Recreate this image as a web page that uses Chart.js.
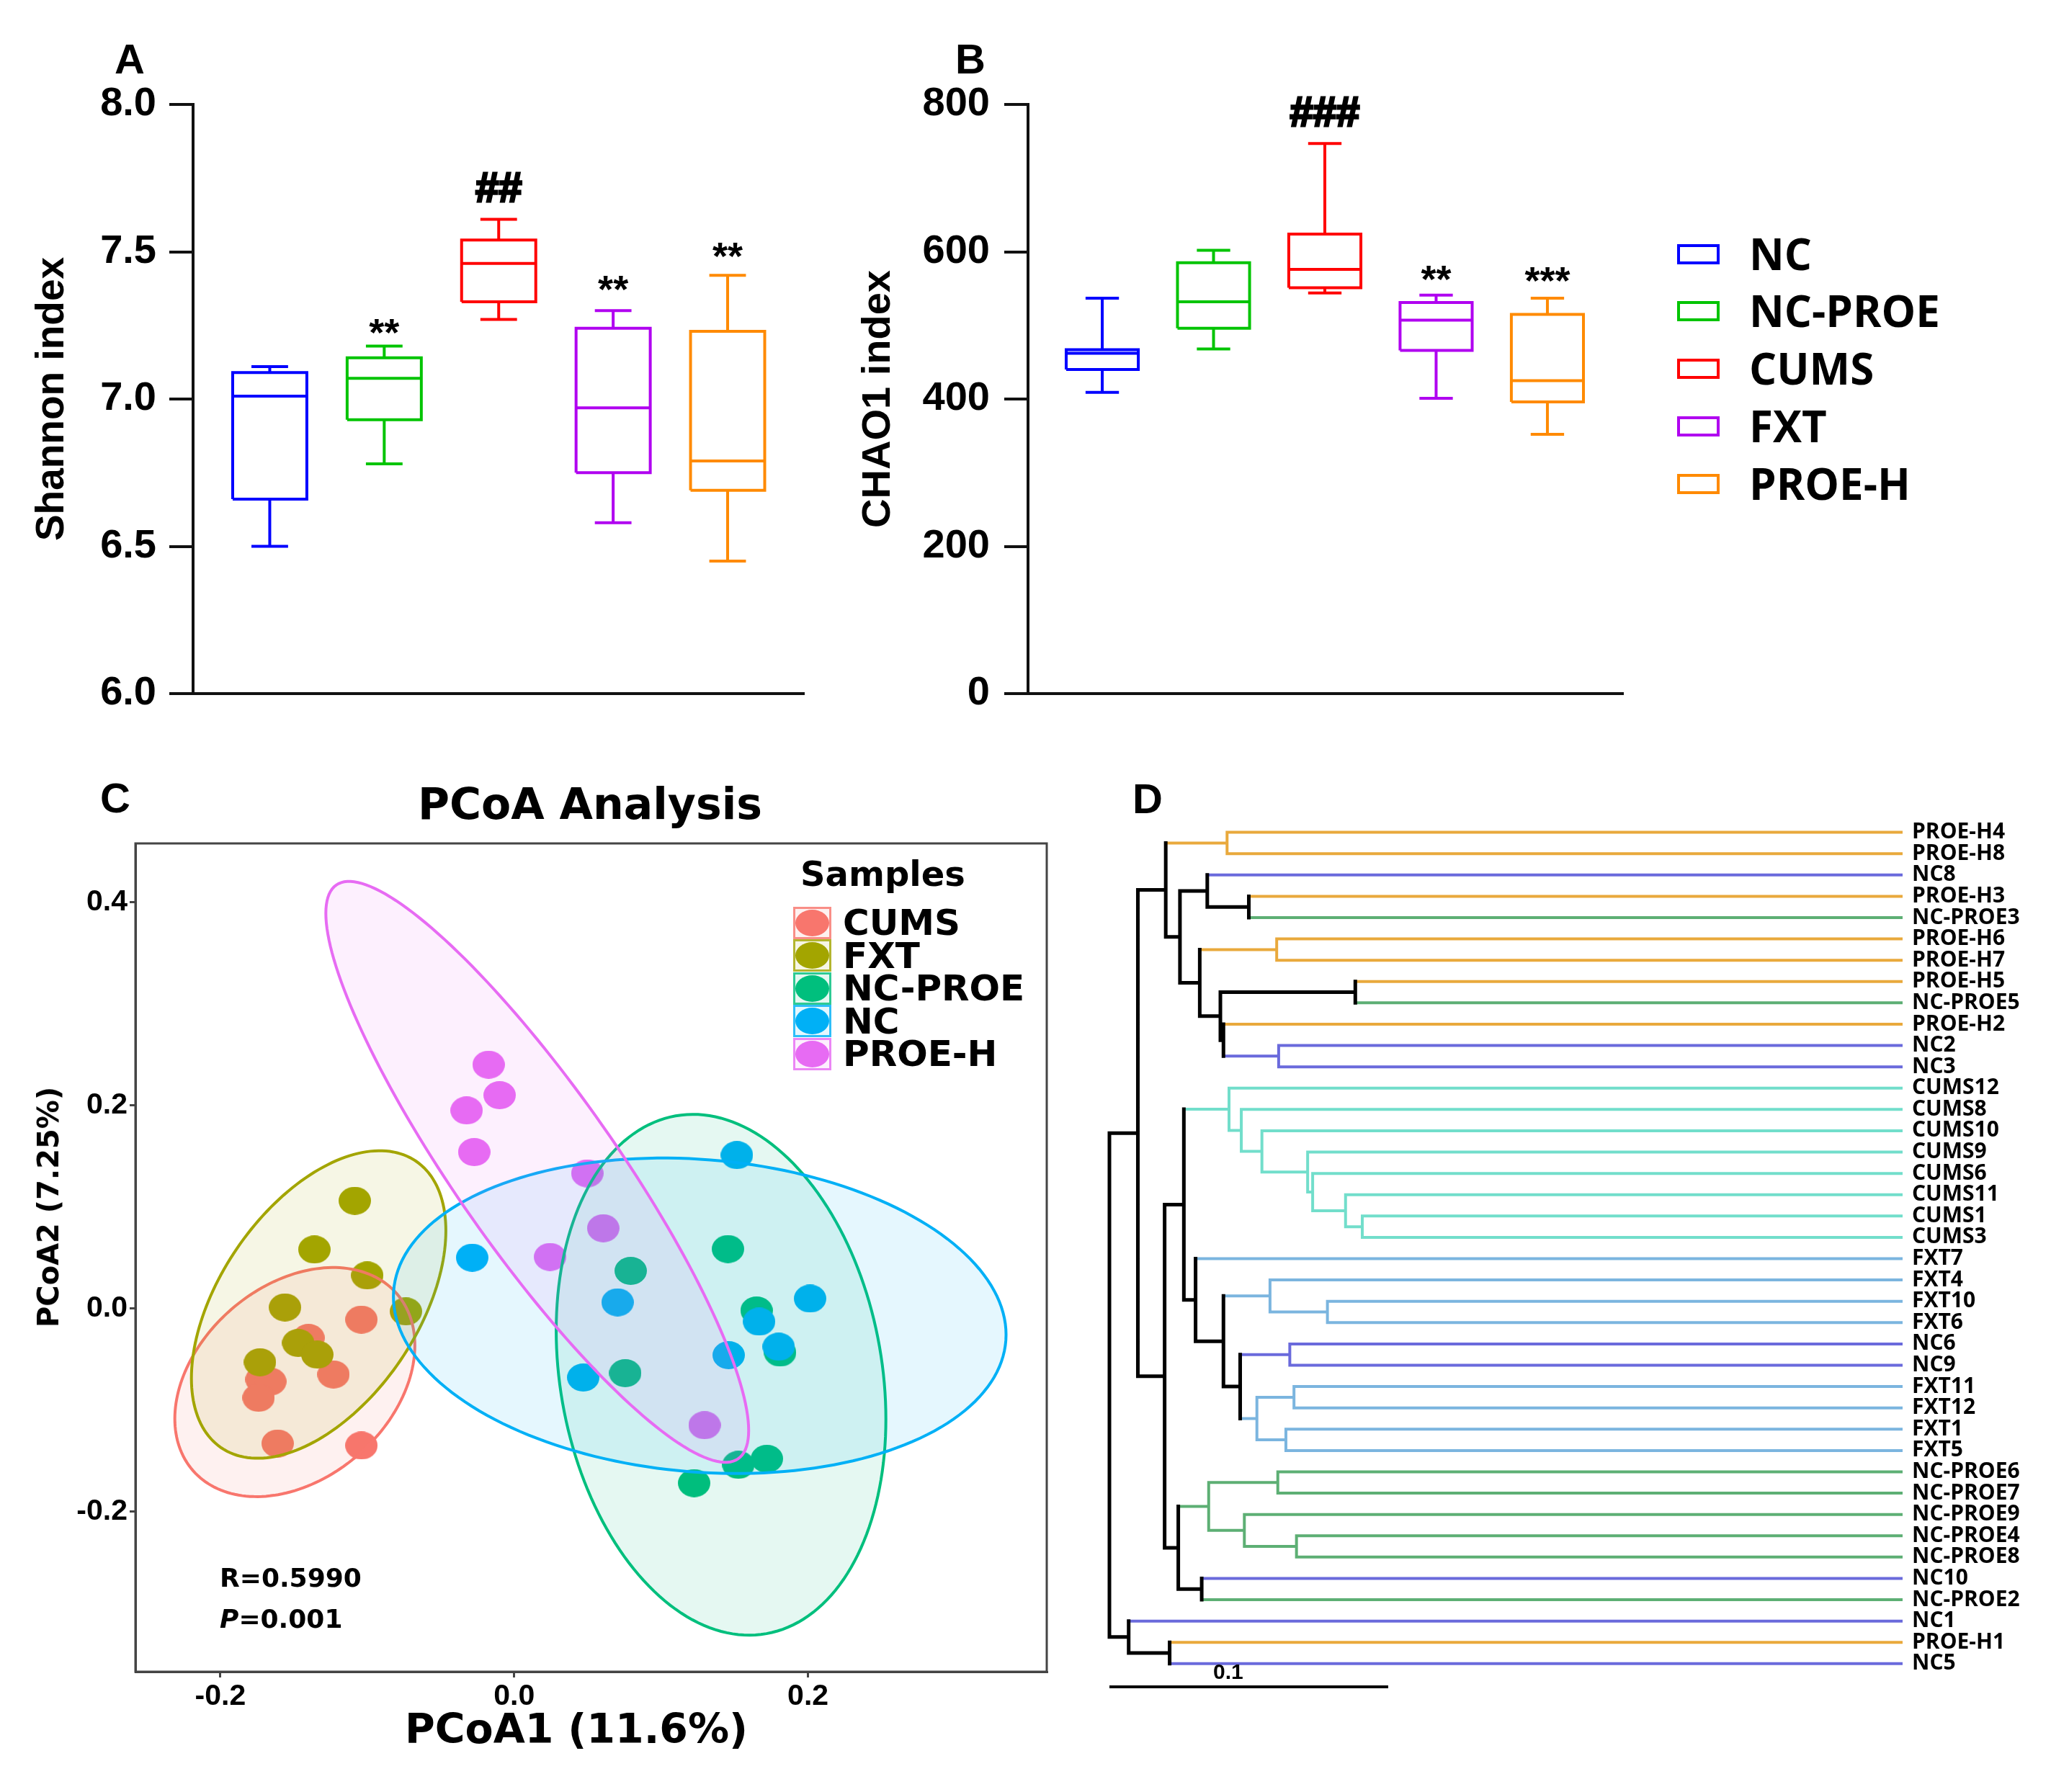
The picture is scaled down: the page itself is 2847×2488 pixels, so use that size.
<!DOCTYPE html>
<html>
<head>
<meta charset="utf-8">
<script src="https://cdn.jsdelivr.net/npm/chart.js@4.4.1/dist/chart.umd.min.js"></script>
<style>
  html, body { margin: 0; padding: 0; background: #fff; }
  #page { position: relative; width: 2847px; height: 2488px; overflow: hidden; background: #fff; }
  .panel { position: absolute; }
  .txt { position: absolute; white-space: nowrap; line-height: 1; color: #000; }
  .ctr { transform: translate(-50%, -50%); }
  .lbl { font-family: 'Liberation Sans', Arial, sans-serif; font-weight: bold; font-size: 58px; }
  .dv { font-family: 'DejaVu Sans', sans-serif; font-weight: bold; }
  .os { font-family: 'Open Sans', sans-serif; font-weight: 700; }
  .key { position: absolute; box-sizing: border-box; }
</style>
</head>
<body>
<div id="page">
  <div class="panel" style="left:0;top:0;width:1150px;height:1040px;"><canvas id="chart-shannon"></canvas></div>
  <div class="panel" style="left:1150px;top:0;width:1697px;height:1040px;"><canvas id="chart-chao"></canvas></div>
  <div class="panel" style="left:0;top:1050px;width:1500px;height:1438px;"><canvas id="chart-pcoa"></canvas></div>
  <div class="panel" style="left:1500px;top:1050px;width:1347px;height:1438px;"><canvas id="chart-tree"></canvas></div>

  <div class="txt ctr lbl" style="left:180px;top:82px;">A</div>
  <div class="txt ctr lbl" style="left:1347px;top:82px;">B</div>
  <div class="txt ctr lbl" style="left:160px;top:1108px;">C</div>
  <div class="txt ctr lbl" style="left:1593px;top:1109px;">D</div>

  <div class="txt ctr dv" style="left:819px;top:1116px;font-size:60px;">PCoA Analysis</div>
  <div class="txt ctr dv" style="left:800px;top:2400px;font-size:57px;">PCoA1 (11.6%)</div>
  <div class="txt dv" style="left:67px;top:1676px;font-size:40px;transform:translate(-50%,-50%) rotate(-90deg);">PCoA2 (7.25%)</div>
  <div class="txt dv" style="left:305px;top:2173px;font-size:36px;">R=0.5990</div>
  <div class="txt dv" style="left:305px;top:2230px;font-size:36px;"><i>P</i>=0.001</div>
  <div class="txt dv" style="left:1111px;top:1189px;font-size:48px;">Samples</div>
  <div id="legend-pcoa"></div>
  <div id="legend-box"></div>
</div>

<script>
// ─── Data ───

// Panels A and B (box plots)
const groups = ['NC', 'NC-PROE', 'CUMS', 'FXT', 'PROE-H'];
const groupColors = ['#0000FF', '#00C400', '#FF0000', '#B000F0', '#FF8A00'];

const shannonMin = [6.50, 6.78, 7.27, 6.58, 6.45];
const shannonQ1 = [6.66, 6.93, 7.33, 6.75, 6.69];
const shannonMedian = [7.01, 7.07, 7.46, 6.97, 6.79];
const shannonQ3 = [7.09, 7.14, 7.54, 7.24, 7.23];
const shannonMax = [7.11, 7.18, 7.61, 7.30, 7.42];
const shannonMarks = ['', '**', '##', '**', '**'];
const shannonMarkY = [null, 7.182, 7.67, 7.327, 7.439];
const shannonTicks = [6.0, 6.5, 7.0, 7.5, 8.0];

const chaoMin = [409, 468, 544, 401, 352];
const chaoQ1 = [440, 496, 551, 466, 396];
const chaoMedian = [462, 532, 576, 507, 425];
const chaoQ3 = [467, 585, 624, 531, 515];
const chaoMax = [537, 602, 747, 541, 537];
const chaoMarks = ['', '', '###', '**', '***'];
const chaoMarkY = [null, null, 771, 545, 543];
const chaoTicks = [0, 200, 400, 600, 800];

// Panel C (PCoA)
const pcoaGroups = ['CUMS', 'FXT', 'NC-PROE', 'NC', 'PROE-H'];
const pcoaColors = ['#F8766D', '#A3A500', '#00BF7D', '#00B0F6', '#E76BF3'];
const cumsX = [-0.140, -0.104, -0.123, -0.172, -0.166, -0.174, -0.161, -0.104];
const cumsY = [-0.029, -0.011, -0.065, -0.070, -0.072, -0.088, -0.133, -0.135];
const fxtX = [-0.1085, -0.136, -0.100, -0.156, -0.0737, -0.147, -0.134, -0.173];
const fxtY = [0.106, 0.058, 0.0325, 0.001, -0.003, -0.034, -0.0455, -0.053];
const ncProeX = [0.0793, 0.1455, 0.165, 0.181, 0.0756, 0.1526, 0.172, 0.1225];
const ncProeY = [0.037, 0.0585, -0.002, -0.0435, -0.0637, -0.154, -0.148, -0.172];
const ncX = [-0.0286, 0.1516, 0.0704, 0.2014, 0.1667, 0.180, 0.146, 0.047];
const ncY = [0.050, 0.151, 0.006, 0.0097, -0.013, -0.0377, -0.046, -0.068];
const proeHX = [-0.0174, -0.0099, -0.0324, -0.0272, 0.0498, 0.0606, 0.0244, 0.1296];
const proeHY = [0.240, 0.210, 0.195, 0.154, 0.133, 0.079, 0.0507, -0.115];
const pcoaX = [cumsX, fxtX, ncProeX, ncX, proeHX];
const pcoaY = [cumsY, fxtY, ncProeY, ncY, proeHY];

// confidence ellipses: centre, half-extent on each axis, correlation
const ellipseCx = [-0.1493, -0.1331, 0.1408, 0.1263, 0.0157];
const ellipseCy = [-0.0725, 0.0039, -0.0653, -0.0072, 0.1345];
const ellipseRx = [0.0817, 0.0866, 0.1122, 0.2085, 0.1439];
const ellipseRy = [0.1128, 0.1514, 0.2564, 0.1553, 0.2860];
const ellipseCorr = [0.32, 0.48, -0.17, -0.12, -0.89];

// Panel D (clustering tree), hclust style merges: -n = leaf n, +k = merge k
const leafNames = ['PROE-H4', 'PROE-H8', 'NC8', 'PROE-H3', 'NC-PROE3', 'PROE-H6', 'PROE-H7', 'PROE-H5',
    'NC-PROE5', 'PROE-H2', 'NC2', 'NC3', 'CUMS12', 'CUMS8', 'CUMS10', 'CUMS9', 'CUMS6', 'CUMS11',
    'CUMS1', 'CUMS3', 'FXT7', 'FXT4', 'FXT10', 'FXT6', 'NC6', 'NC9', 'FXT11', 'FXT12', 'FXT1', 'FXT5',
    'NC-PROE6', 'NC-PROE7', 'NC-PROE9', 'NC-PROE4', 'NC-PROE8', 'NC10', 'NC-PROE2', 'NC1', 'PROE-H1', 'NC5'];
const mergeLeft = [-1, -4, -3, -6, -8, -11, -10, 5, 4, 3, 1, -19, -18, -17, -16, -15, -14, -13, -23, -22,
    -25, -27, -29, 22, 21, 20, -21, 18, -31, -34, -33, 29, -36, 32, 28, 11, -39, -38, 36];
const mergeRight = [-2, -5, 2, -7, -9, -12, 6, 7, 8, 9, 10, -20, 12, 13, 14, 15, 16, 17, -24, 19,
    -26, -28, -30, 23, 24, 25, 26, 27, -32, -35, 30, 31, -37, 33, 34, 35, -40, 37, 38];
const mergeHeight = [0.0422, 0.0500, 0.0351, 0.0600, 0.0882, 0.0607, 0.0409, 0.0398, 0.0324, 0.0253,
    0.0202, 0.0907, 0.0847, 0.0729, 0.0711, 0.0547, 0.0473, 0.0429, 0.0782, 0.0576, 0.0647, 0.0662,
    0.0633, 0.0529, 0.0469, 0.0409, 0.0309, 0.0267, 0.0604, 0.0671, 0.0484, 0.0356, 0.0331, 0.0247,
    0.0198, 0.0102, 0.0216, 0.0069, 0];
const leafDepth = 0.284;
const scaleBarLength = 0.1;
const treeColors = { 'NC': '#6A6ADC', 'NC-PROE': '#5DAF74', 'PROE-H': '#E9A93C', 'CUMS': '#72DECB', 'FXT': '#7BB5DF' };

// ─── Defaults ───
Chart.defaults.font.family = "'Liberation Sans', Arial, sans-serif";
Chart.defaults.color = '#000';
Chart.defaults.animation = false;

const GAP = { x: null, y: null };

function boxPoints(mins, q1s, meds, q3s, maxs, i, half, cap) {
    const x = i + 1;
    return [
        { x: x - half, y: q1s[i] }, { x: x + half, y: q1s[i] }, { x: x + half, y: q3s[i] },
        { x: x - half, y: q3s[i] }, { x: x - half, y: q1s[i] }, GAP,
        { x: x - half, y: meds[i] }, { x: x + half, y: meds[i] }, GAP,
        { x, y: q3s[i] }, { x, y: maxs[i] }, GAP,
        { x: x - cap, y: maxs[i] }, { x: x + cap, y: maxs[i] }, GAP,
        { x, y: q1s[i] }, { x, y: mins[i] }, GAP,
        { x: x - cap, y: mins[i] }, { x: x + cap, y: mins[i] }
    ];
}

function marksPlugin(marks, markY) {
    return {
        id: 'marks',
        afterDatasetsDraw(chart) {
            const { ctx, scales: { x, y } } = chart;
            ctx.save();
            ctx.fillStyle = '#000';
            ctx.strokeStyle = '#000';
            ctx.textAlign = 'center';
            ctx.textBaseline = 'alphabetic';
            marks.forEach((m, i) => {
                if (!m) return;
                const hash = m.includes('#');
                const size = hash ? 58 : 54;
                const px = x.getPixelForValue(i + 1), py = y.getPixelForValue(markY[i]);
                ctx.font = `bold ${size}px 'Liberation Sans', Arial, sans-serif`;
                ctx.fillText(m, px, py);
                if (hash) {
                    // hashes are heavier in the figure
                    ctx.lineWidth = 3;
                    ctx.strokeText(m, px, py);
                }
            });
            ctx.restore();
        }
    };
}

function boxChart(id, stats, marks, markY, opts) {
    const [mins, q1s, meds, q3s, maxs] = stats;
    return new Chart(document.getElementById(id), {
        type: 'scatter',
        data: {
            datasets: groups.map((g, i) => ({
                label: g,
                data: boxPoints(mins, q1s, meds, q3s, maxs, i, 0.324, opts.cap),
                showLine: true,
                borderColor: groupColors[i],
                borderWidth: 4,
                borderJoinStyle: 'miter',
                pointRadius: 0,
                clip: false
            }))
        },
        options: {
            responsive: true,
            maintainAspectRatio: false,
            devicePixelRatio: 1,
            layout: { padding: { top: 145, right: opts.padRight, bottom: 0, left: 0 } },
            plugins: { legend: { display: false }, tooltip: { enabled: false } },
            scales: {
                x: {
                    type: 'linear', min: opts.xMin, max: opts.xMax,
                    afterFit: s => { s.height = 77; },
                    ticks: { display: false },
                    grid: { display: false },
                    border: { display: true, color: '#111', width: 4 }
                },
                y: {
                    type: 'linear', min: opts.ticks[0], max: opts.ticks[opts.ticks.length - 1],
                    afterFit: s => { s.width = opts.axisWidth; },
                    afterBuildTicks: s => { s.ticks = opts.ticks.map(v => ({ value: v })); },
                    ticks: {
                        padding: opts.tickPad, color: '#000',
                        font: { size: 56, weight: 'bold' },
                        callback: opts.fmt
                    },
                    grid: { drawOnChartArea: false, tickLength: 33, lineWidth: 4, color: '#111' },
                    border: { display: true, color: '#111', width: 4 },
                    title: {
                        display: true, text: opts.title, color: '#000',
                        font: { size: opts.titleSize, weight: 'bold' },
                        padding: { top: opts.titlePad, bottom: 0 }
                    }
                }
            }
        },
        plugins: [marksPlugin(marks, markY)]
    });
}

// ─── Panel A: Shannon ───
boxChart('chart-shannon',
    [shannonMin, shannonQ1, shannonMedian, shannonQ3, shannonMax], shannonMarks, shannonMarkY,
    { cap: 0.16, padRight: 34, xMin: 0.33, xMax: 5.667, axisWidth: 268, tickPad: 18, ticks: shannonTicks,
      fmt: v => v.toFixed(1), title: 'Shannon index', titleSize: 55, titlePad: 40 });

// ─── Panel B: CHAO1 ───
boxChart('chart-chao',
    [chaoMin, chaoQ1, chaoMedian, chaoQ3, chaoMax], chaoMarks, chaoMarkY,
    { cap: 0.15, padRight: 594, xMin: 0.333, xMax: 5.68, axisWidth: 277, tickPad: 20, ticks: chaoTicks,
      fmt: v => String(v), title: 'CHAO1 index', titleSize: 56, titlePad: 36 });

// legend for A/B
const legendBox = document.getElementById('legend-box');
const legendBoxY = [353, 432, 512, 592, 672];
groups.forEach((g, i) => {
    const sw = document.createElement('div');
    sw.className = 'key';
    sw.style.cssText = `left:2328px;top:${legendBoxY[i] - 14}px;width:59px;height:28px;border:4px solid ${groupColors[i]};`;
    legendBox.appendChild(sw);
    const t = document.createElement('div');
    t.className = 'txt os';
    t.style.cssText = `left:2428px;top:${legendBoxY[i] - 31}px;font-size:60px;`;
    t.textContent = g;
    legendBox.appendChild(t);
});

// ─── Panel C: PCoA ───
function hexA(hex, a) {
    const n = parseInt(hex.slice(1), 16);
    return `rgba(${n >> 16},${(n >> 8) & 255},${n & 255},${a})`;
}

function dotImage(color, w, h) {
    const c = document.createElement('canvas');
    c.width = w; c.height = h;
    const g = c.getContext('2d');
    g.fillStyle = color;
    g.beginPath();
    g.ellipse(w / 2, h / 2, w / 2, h / 2, 0, 0, Math.PI * 2);
    g.fill();
    return c;
}

const ellipsePlugin = {
    id: 'ellipses',
    afterDatasetsDraw(chart) {
        const { ctx, chartArea: a, scales: { x, y } } = chart;
        ctx.save();
        ctx.beginPath();
        ctx.rect(a.left, a.top, a.right - a.left, a.bottom - a.top);
        ctx.clip();
        pcoaGroups.forEach((g, i) => {
            const c = ellipseCorr[i], s = Math.sqrt(1 - c * c);
            ctx.beginPath();
            for (let k = 0; k <= 180; k++) {
                const t = k / 180 * Math.PI * 2;
                const px = x.getPixelForValue(ellipseCx[i] + ellipseRx[i] * Math.cos(t));
                const py = y.getPixelForValue(ellipseCy[i] + ellipseRy[i] * (c * Math.cos(t) + s * Math.sin(t)));
                if (k === 0) ctx.moveTo(px, py); else ctx.lineTo(px, py);
            }
            ctx.closePath();
            ctx.fillStyle = hexA(pcoaColors[i], 0.1);
            ctx.fill();
            ctx.lineWidth = 4;
            ctx.strokeStyle = pcoaColors[i];
            ctx.stroke();
        });
        ctx.restore();
        // panel frame
        ctx.save();
        ctx.strokeStyle = '#444';
        ctx.lineWidth = 3;
        ctx.strokeRect(a.left, a.top, a.right - a.left, a.bottom - a.top);
        ctx.restore();
    }
};

const fmt1 = v => (Math.abs(v) < 1e-9 ? '0.0' : v.toFixed(1));

new Chart(document.getElementById('chart-pcoa'), {
    type: 'scatter',
    data: {
        datasets: pcoaGroups.map((g, i) => ({
            label: g,
            data: pcoaX[i].map((v, j) => ({ x: v, y: pcoaY[i][j] })),
            pointStyle: dotImage(pcoaColors[i], 45, 39),
            pointRadius: 20,
            order: pcoaGroups.length - i
        }))
    },
    options: {
        responsive: true,
        maintainAspectRatio: false,
        devicePixelRatio: 1,
        layout: { padding: { top: 121, right: 47, bottom: 0, left: 0 } },
        plugins: { legend: { display: false }, tooltip: { enabled: false } },
        scales: {
            x: {
                type: 'linear', min: -0.2578, max: 0.3625,
                afterFit: s => { s.height = 167; },
                ticks: { stepSize: 0.2, includeBounds: false, padding: 2, color: '#000',
                    font: { size: 41, weight: 'bold' }, callback: fmt1 },
                grid: { drawOnChartArea: false, tickLength: 8, lineWidth: 3, color: '#444' },
                border: { display: true, color: '#444', width: 3 }
            },
            y: {
                type: 'linear', min: -0.3577, max: 0.4579,
                afterFit: s => { s.width = 188; },
                ticks: { stepSize: 0.2, includeBounds: false, padding: 3, color: '#000',
                    font: { size: 41, weight: 'bold' }, callback: fmt1 },
                grid: { drawOnChartArea: false, tickLength: 8, lineWidth: 3, color: '#444' },
                border: { display: true, color: '#444', width: 3 }
            }
        }
    },
    plugins: [ellipsePlugin]
});

// legend for C
const legendPcoa = document.getElementById('legend-pcoa');
pcoaGroups.forEach((g, i) => {
    const cy = 1281 + i * 45.5;
    const key = document.createElement('div');
    key.className = 'key';
    key.style.cssText = `left:1101px;top:${cy - 22.5}px;width:53px;height:45px;border:3px solid ${hexA(pcoaColors[i], 0.8)};background:${hexA(pcoaColors[i], 0.1)};`;
    const dot = document.createElement('div');
    dot.style.cssText = `position:absolute;left:0;top:1px;width:47px;height:37px;border-radius:50%;background:${pcoaColors[i]};`;
    key.appendChild(dot);
    legendPcoa.appendChild(key);
    const t = document.createElement('div');
    t.className = 'txt dv';
    t.style.cssText = `left:1170px;top:${cy - 25}px;font-size:50px;`;
    t.textContent = g;
    legendPcoa.appendChild(t);
});

// ─── Panel D: clustering tree ───
function groupOf(name) {
    if (name.startsWith('NC-PROE')) return 'NC-PROE';
    if (name.startsWith('PROE-H')) return 'PROE-H';
    if (name.startsWith('CUMS')) return 'CUMS';
    if (name.startsWith('FXT')) return 'FXT';
    return 'NC';
}

const nodes = [];
function nodeOf(ref) {
    if (ref < 0) {
        const idx = -ref - 1;
        return { x: leafDepth, y: idx, group: groupOf(leafNames[idx]) };
    }
    return nodes[ref - 1];
}

const segments = {}; // colour -> points
function addSeg(color, p1, p2) {
    if (!segments[color]) segments[color] = [];
    segments[color].push(p1, p2, GAP);
}

mergeHeight.forEach((h, k) => {
    const a = nodeOf(mergeLeft[k]), b = nodeOf(mergeRight[k]);
    const group = a.group && a.group === b.group ? a.group : null;
    const node = { x: h, y: (a.y + b.y) / 2, group };
    nodes.push(node);
    const col = group ? treeColors[group] : '#000';
    addSeg(col, { x: h, y: a.y }, { x: h, y: b.y });
    [a, b].forEach(ch => {
        addSeg(ch.group ? treeColors[ch.group] : '#000', { x: h, y: ch.y }, { x: ch.x, y: ch.y });
    });
});

const treeDatasets = Object.keys(segments).map(col => ({
    data: segments[col],
    showLine: true,
    borderColor: col,
    borderWidth: col === '#000' ? 5 : 4,
    borderCapStyle: 'square',
    pointRadius: 0,
    clip: false,
    order: col === '#000' ? 0 : 1
}));
treeDatasets.push({
    data: [{ x: 0, y: 40.09 }, { x: scaleBarLength, y: 40.09 }],
    showLine: true, borderColor: '#000', borderWidth: 4, pointRadius: 0, clip: false
});

const scaleLabelPlugin = {
    id: 'scaleLabel',
    afterDatasetsDraw(chart) {
        const { ctx, scales: { x, y } } = chart;
        ctx.save();
        ctx.font = "bold 30px 'Liberation Sans', Arial, sans-serif";
        ctx.fillStyle = '#000';
        ctx.textAlign = 'center';
        ctx.textBaseline = 'middle';
        ctx.fillText(String(scaleBarLength), x.getPixelForValue(0.0426), y.getPixelForValue(39.45));
        ctx.restore();
    }
};

new Chart(document.getElementById('chart-tree'), {
    type: 'scatter',
    data: { datasets: treeDatasets },
    options: {
        responsive: true,
        maintainAspectRatio: false,
        devicePixelRatio: 1,
        layout: { padding: { top: 90.8, right: 0, bottom: 130.8, left: 40 } },
        plugins: { legend: { display: false }, tooltip: { enabled: false } },
        scales: {
            x: { type: 'linear', display: false, min: 0, max: leafDepth },
            y: {
                type: 'linear', position: 'right', reverse: true, min: -0.5, max: 40.6,
                afterFit: s => { s.width = 208; },
                ticks: {
                    stepSize: 1, autoSkip: false, includeBounds: false, padding: 15, color: '#000',
                    font: { family: "'Open Sans', sans-serif", size: 30, weight: 'bold', lineHeight: 1 },
                    callback: v => leafNames[v] ?? ''
                },
                grid: { display: false, drawTicks: false },
                border: { display: false }
            }
        }
    },
    plugins: [scaleLabelPlugin]
});
</script>
</body>
</html>
